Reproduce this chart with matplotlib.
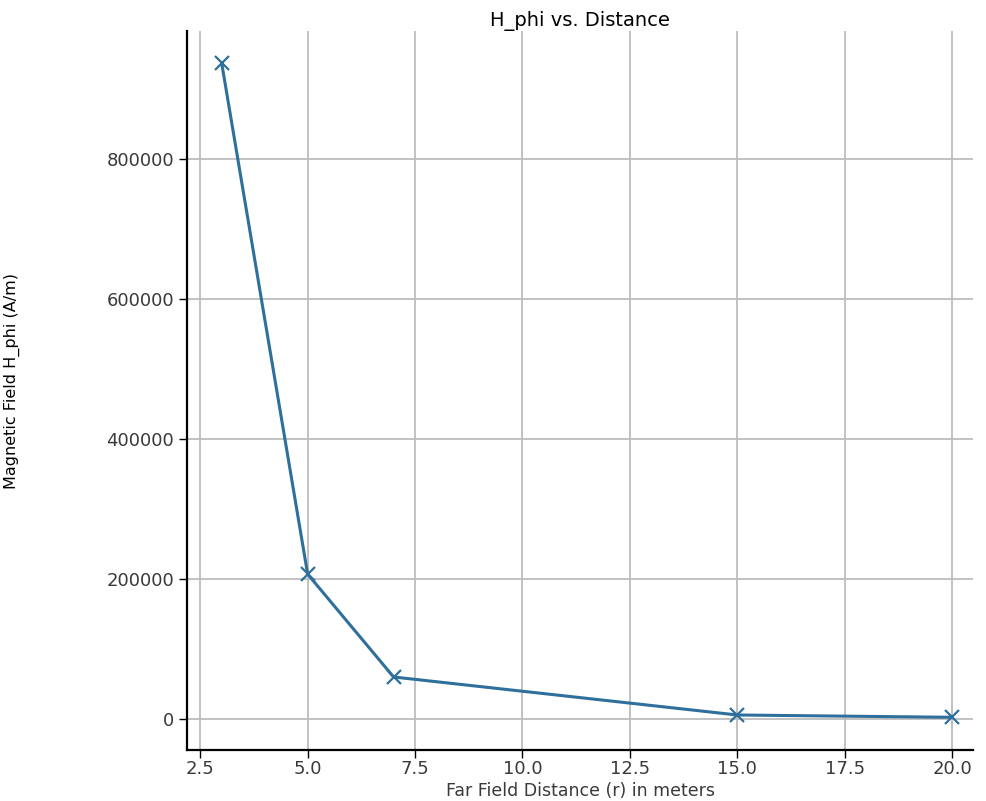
import matplotlib
matplotlib.use("Agg")
import matplotlib.pyplot as plt

# Far field samples
distances = [3, 5, 7, 15, 20]
h_phi = [937000, 207000, 60000, 5700, 2400]
xticks = [2.5, 5.0, 7.5, 10.0, 12.5, 15.0, 17.5, 20.0]
yticks = [0, 200000, 400000, 600000, 800000]

line_color = "#2f6f9c"
tick_color = "#3a3a3a"

fig = plt.figure(figsize=(9.86, 8.01), dpi=100)
ax = fig.add_axes([0.190, 0.0637, 0.797, 0.8973])

ax.plot(distances, h_phi, color=line_color, linewidth=2.2,
        marker="x", markersize=10, markeredgewidth=1.6)

ax.set_xlim(2.2, 20.49)
ax.set_ylim(-44300, 982800)
ax.set_xticks(xticks)
ax.set_xticklabels([f"{t:.1f}" for t in xticks])
ax.set_yticks(yticks)
ax.set_yticklabels([str(t) for t in yticks])
ax.tick_params(labelsize=13, labelcolor=tick_color, color="black", length=6, width=1)
ax.tick_params(axis="x", pad=1)

ax.grid(True, color="#bdbdbd", linewidth=1.3)
for side in ["top", "right"]:
    ax.spines[side].set_visible(False)
for side in ["left", "bottom"]:
    ax.spines[side].set_linewidth(1.6)

ax.set_title("H_phi vs. Distance", fontsize=14, pad=4)
ax.set_xlabel("Far Field Distance (r) in meters", fontsize=12.5, color=tick_color)
ax.xaxis.set_label_coords(0.5, -0.044)
ax.set_ylabel("Magnetic Field H_phi (A/m)", fontsize=11.5)
ax.yaxis.set_label_coords(-0.213, 0.513)

fig.savefig("out.png", dpi=100)
plt.close(fig)
